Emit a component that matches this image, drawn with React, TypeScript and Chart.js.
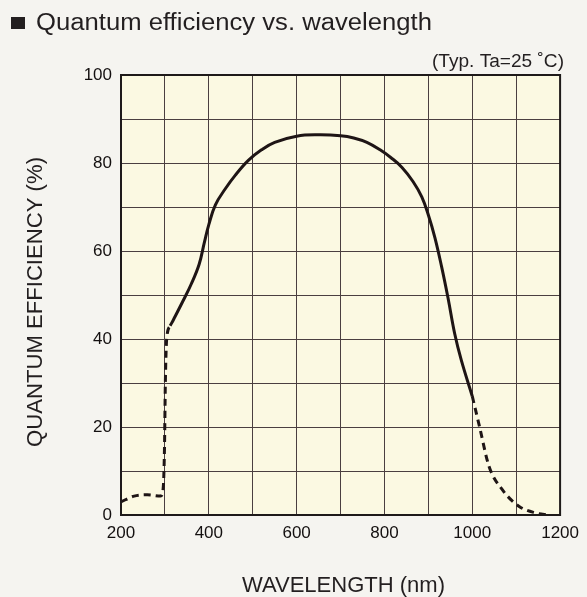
import React, { useEffect, useRef } from "react";
import { Chart, registerables } from "chart.js";

Chart.register(...registerables);

const leftDashedX = [200, 230, 260, 290, 296, 299, 301, 304, 312];
const leftDashedY = [3, 4.3, 4.6, 4.3, 6, 15, 30, 40, 43];
const solidX = [312, 320, 340, 360, 378, 390, 400, 415, 438, 460, 490, 520, 550, 600, 650, 700, 730, 760, 790, 815, 840, 865, 885, 900, 915, 930, 945, 960, 975, 1000];
const solidY = [43, 44.5, 48.4, 52.5, 57, 62, 66, 70.5, 74.2, 77.2, 80.6, 83, 84.7, 86.1, 86.4, 86.2, 85.7, 84.7, 83, 81.2, 79, 75.8, 72.3, 68.2, 63, 56.5, 49.2, 41.2, 35.2, 27];
const rightDashedX = [1000, 1016, 1038, 1068, 1106, 1143, 1175];
const rightDashedY = [27, 20.3, 11.1, 5.8, 2, 0.5, 0];

const xTickLabels = [200, 400, 600, 800, 1000, 1200];
const titleText = "Quantum efficiency vs. wavelength";
const noteText = "(Typ. Ta=25 \u02DAC)";
const yTitle = "QUANTUM EFFICIENCY (%)";
const xTitle = "WAVELENGTH (nm)";

const pts = (xs: number[], ys: number[]) => xs.map((x, i) => ({ x, y: ys[i] }));

const FONT = "'Liberation Sans', Arial, sans-serif";

function fitText(ctx: any, text: string, x0: number, x1: number, baseline: number) {
  const w = ctx.measureText(text).width;
  ctx.save();
  ctx.translate(x0, baseline);
  ctx.scale((x1 - x0) / w, 1);
  ctx.textAlign = "left";
  ctx.textBaseline = "alphabetic";
  ctx.fillText(text, 0, 0);
  ctx.restore();
}

export default function App() {
  const ref = useRef<HTMLCanvasElement>(null);
  useEffect(() => {
    const canvas = ref.current!;
    const deco = {
      id: "deco",
      beforeDraw(chart: any) {
        const ctx = chart.ctx;
        const a = chart.chartArea;
        ctx.save();
        ctx.fillStyle = "#f5f4f0";
        ctx.fillRect(0, 0, chart.width, chart.height);
        ctx.fillStyle = "#fbf9e2";
        ctx.fillRect(a.left, a.top, a.right - a.left, a.bottom - a.top);
        ctx.restore();
      },
      afterDraw(chart: any) {
        const ctx = chart.ctx;
        const a = chart.chartArea;
        ctx.save();
        ctx.strokeStyle = "#1e1a1a";
        ctx.lineWidth = 2;
        ctx.strokeRect(a.left, a.top, a.right - a.left, a.bottom - a.top);
        ctx.fillStyle = "#231f20";
        ctx.fillRect(11, 17, 14, 12);
        ctx.font = `23px ${FONT}`;
        fitText(ctx, titleText, 36, 432, 30);
        ctx.font = `18px ${FONT}`;
        fitText(ctx, noteText, 432, 564, 67);
        ctx.font = `22px ${FONT}`;
        fitText(ctx, xTitle, 242, 445, 592);
        ctx.translate(42, 447);
        ctx.rotate(-Math.PI / 2);
        fitText(ctx, yTitle, 0, 290, 0);
        ctx.restore();
      },
    };
    const common = {
      borderColor: "#1e1515",
      borderWidth: 3,
      pointRadius: 0,
      fill: false,
    };
    const chart = new Chart(canvas, {
      type: "line",
      data: {
        datasets: [
          { ...common, data: pts(leftDashedX, leftDashedY), borderDash: [7, 5], cubicInterpolationMode: "monotone" },
          { ...common, data: pts(solidX, solidY), tension: 0.4 },
          { ...common, data: pts(rightDashedX, rightDashedY), borderDash: [7, 5], cubicInterpolationMode: "monotone" },
        ],
      },
      options: {
        animation: false,
        responsive: false,
        layout: { padding: { top: 75, right: 22, left: 0, bottom: 0 } },
        plugins: { legend: { display: false }, tooltip: { enabled: false } },
        scales: {
          x: {
            type: "linear",
            min: 200,
            max: 1200,
            afterFit: (s: any) => { s.height = 82; },
            afterBuildTicks: (s: any) => {
              const t = [];
              for (let v = 200; v <= 1200; v += 100) t.push({ value: v });
              s.ticks = t;
            },
            ticks: {
              autoSkip: false,
              maxRotation: 0,
              padding: 8,
              color: "#141010",
              font: { size: 17, family: FONT },
              callback: (v: any) => (xTickLabels.includes(v) ? String(v) : ""),
            },
            grid: { color: "#4a3f40", lineWidth: 1, drawTicks: false },
            border: { display: false },
          },
          y: {
            type: "linear",
            min: 0,
            max: 100,
            afterFit: (s: any) => { s.width = 121; },
            afterBuildTicks: (s: any) => {
              const t = [];
              for (let v = 0; v <= 100; v += 10) t.push({ value: v });
              s.ticks = t;
            },
            ticks: {
              autoSkip: false,
              padding: 9,
              color: "#141010",
              font: { size: 17, family: FONT },
              callback: (v: any) => (v % 20 === 0 ? String(v) : ""),
            },
            grid: { color: "#4a3f40", lineWidth: 1, drawTicks: false },
            border: { display: false },
          },
        },
      },
      plugins: [deco],
    });
    return () => chart.destroy();
  }, []);
  return (
    <div style={{ position: "fixed", left: 0, top: 0, width: 587, height: 597 }}>
      <canvas ref={ref} width={587} height={597} style={{ width: 587, height: 597, display: "block" }} />
    </div>
  );
}
